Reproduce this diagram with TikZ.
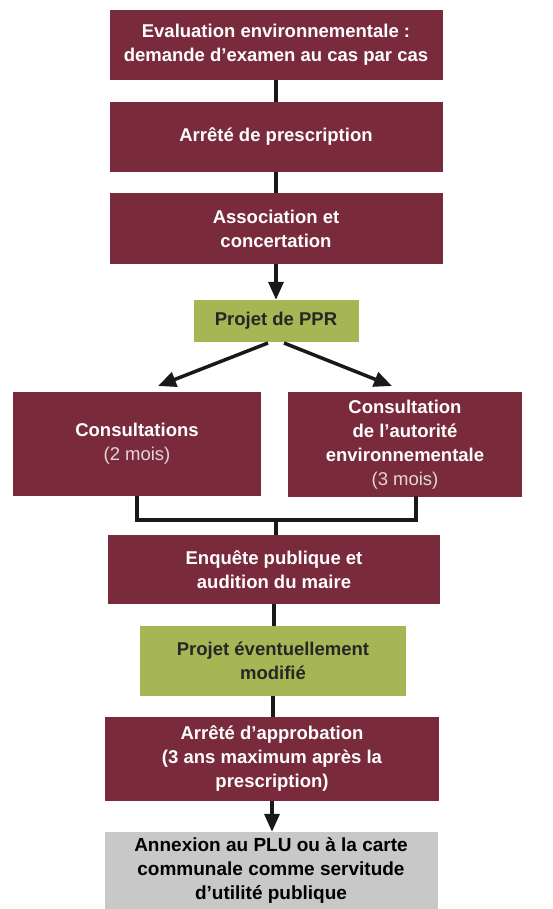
\documentclass[tikz,border=0pt]{standalone}
\usepackage{fontspec}
\setmainfont{Liberation Sans}
\usetikzlibrary{arrows.meta}
\definecolor{bordeaux}{RGB}{122,43,59}
\definecolor{olive}{RGB}{166,182,84}
\definecolor{grisbox}{RGB}{200,200,200}
\definecolor{pale}{RGB}{226,214,218}
\tikzset{>/.tip={Triangle[length=18pt,width=15pt]},
  etape/.style={fill=bordeaux, text=white, align=center, inner sep=0pt,
    font=\fontsize{18.5}{24}\selectfont\bfseries},
  projet/.style={fill=olive, text=black!85, align=center, inner sep=0pt,
    font=\fontsize{18.5}{24}\selectfont\bfseries},
  annexe/.style={fill=grisbox, text=black, align=center, inner sep=0pt,
    font=\fontsize{19}{24}\selectfont\bfseries},
  lien/.style={line width=3.5pt, draw=black!90}}

\begin{document}
\begin{tikzpicture}[x=1pt,y=-1pt]
\useasboundingbox (0,0) rectangle (553,909);
\node[etape, minimum width=333pt, minimum height=70pt] (eval) at (276,45)
  {Evaluation environnementale :\\demande d’examen au cas par cas};
\node[etape, minimum width=333pt, minimum height=70pt] (presc) at (276,137)
  {Arrêté de prescription};
\node[etape, minimum width=333pt, minimum height=71pt] (assoc) at (276,228.5)
  {Association et\\concertation};
\node[projet, minimum width=165pt, minimum height=42pt] (ppr) at (276,321)
  {Projet de PPR};
\node[etape, minimum width=248pt, minimum height=104pt] (cons) at (137,444)
  {Consultations\\{\mdseries\color{pale}(2 mois)}};
\node[etape, minimum width=234pt, minimum height=105pt] (autor) at (405,444.5)
  {Consultation\\de l’autorité\\environnementale\\{\mdseries\color{pale}(3 mois)}};
\node[etape, minimum width=332pt, minimum height=69pt] (enq) at (274,569.5)
  {Enquête publique et\\audition du maire};
\node[projet, minimum width=266pt, minimum height=70pt] (modif) at (273,661)
  {Projet éventuellement\\modifié};
\node[etape, minimum width=334pt, minimum height=84pt] (appro) at (272,759)
  {Arrêté d’approbation\\(3 ans maximum après la\\prescription)};
\node[annexe, minimum width=333pt, minimum height=77pt] (annex) at (271,870.5)
  {Annexion au PLU ou à la carte\\communale comme servitude\\d’utilité publique};
\coordinate (jonction) at (276,520);
\draw[lien] (eval.south -| presc.north) to (presc.north);
\draw[lien] (presc) to (assoc);
\draw[lien,->] (assoc) to (ppr);
\draw[lien,->] (268,343) to (158,386);
\draw[lien,->] (284,343) to (392,386);
\draw[lien] (cons.south) |- (jonction) -| (416,496);
\draw[lien] (jonction) to (jonction |- enq.north);
\draw[lien] (enq.south -| 274,0) to (modif.north -| 274,0);
\draw[lien] (modif) to (modif |- appro.north);
\draw[lien,->] (appro.south -| 272,0) to (annex.north -| 272,0);
\end{tikzpicture}
\end{document}
